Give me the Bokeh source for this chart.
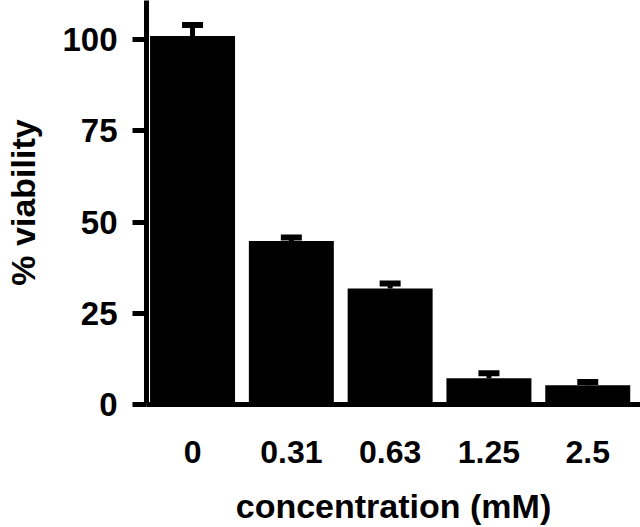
from bokeh.plotting import figure
from bokeh.models import FixedTicker, Whisker, ColumnDataSource, TeeHead, Range1d
from bokeh.embed import file_html
from bokeh.resources import INLINE

categories = ["0", "0.31", "0.63", "1.25", "2.5"]
viability = [101.0, 44.8, 31.8, 7.2, 5.3]
sem = [3.0, 1.0, 1.4, 1.4, 0.9]
y_ticks = [0, 25, 50, 75, 100]
x_title = "concentration (mM)"
y_title = "% viability"

xs = list(range(len(categories)))
upper = [v + e for v, e in zip(viability, sem)]
src = ColumnDataSource(dict(x=xs, top=viability, upper=upper))

FONT = "Liberation Sans"

p = figure(width=640, height=527, output_backend="svg", toolbar_location=None,
           x_range=Range1d(-0.466, 4.534), y_range=Range1d(0, 110.75),
           min_border_left=146, min_border_right=0, min_border_top=0,
           min_border_bottom=122)
p.outline_line_color = None
p.border_fill_color = "white"
p.grid.visible = False
p.background_fill_color = "white"

p.vbar(x="x", top="top", width=0.86, bottom=0, source=src,
       fill_color="black", line_color=None)

w = Whisker(base="x", lower="top", upper="upper", source=src,
            line_color="black", line_width=5,
            upper_head=TeeHead(size=21, line_width=6, line_color="black"),
            lower_head=None)
p.add_layout(w)

# y axis
ya = p.yaxis[0]
ya.ticker = FixedTicker(ticks=y_ticks)
ya.axis_line_width = 5
ya.axis_line_color = "black"
ya.major_tick_line_width = 5
ya.major_tick_out = 14
ya.major_tick_in = 0
ya.minor_tick_line_color = None
ya.major_label_standoff = 15
ya.major_label_text_font = FONT
ya.major_label_text_font_style = "bold"
ya.major_label_text_font_size = "33px"
ya.major_label_text_color = "black"
ya.axis_label = y_title
ya.axis_label_text_font = FONT
ya.axis_label_text_font_style = "bold"
ya.axis_label_text_font_size = "34px"
ya.axis_label_text_color = "black"
ya.axis_label_standoff = 17

# x axis
xa = p.xaxis[0]
xa.ticker = FixedTicker(ticks=xs)
xa.major_label_overrides = {i: c for i, c in zip(xs, categories)}
xa.axis_line_width = 5
xa.axis_line_color = "black"
xa.major_tick_line_color = None
xa.major_tick_out = 0
xa.major_tick_in = 0
xa.minor_tick_line_color = None
xa.major_label_standoff = 36
xa.major_label_text_font = FONT
xa.major_label_text_font_style = "bold"
xa.major_label_text_font_size = "32px"
xa.major_label_text_color = "black"
xa.axis_label = x_title
xa.axis_label_text_font = FONT
xa.axis_label_text_font_style = "bold"
xa.axis_label_text_font_size = "34px"
xa.axis_label_text_color = "black"
xa.axis_label_standoff = 21

open("out.html", "w").write(file_html(p, INLINE))
